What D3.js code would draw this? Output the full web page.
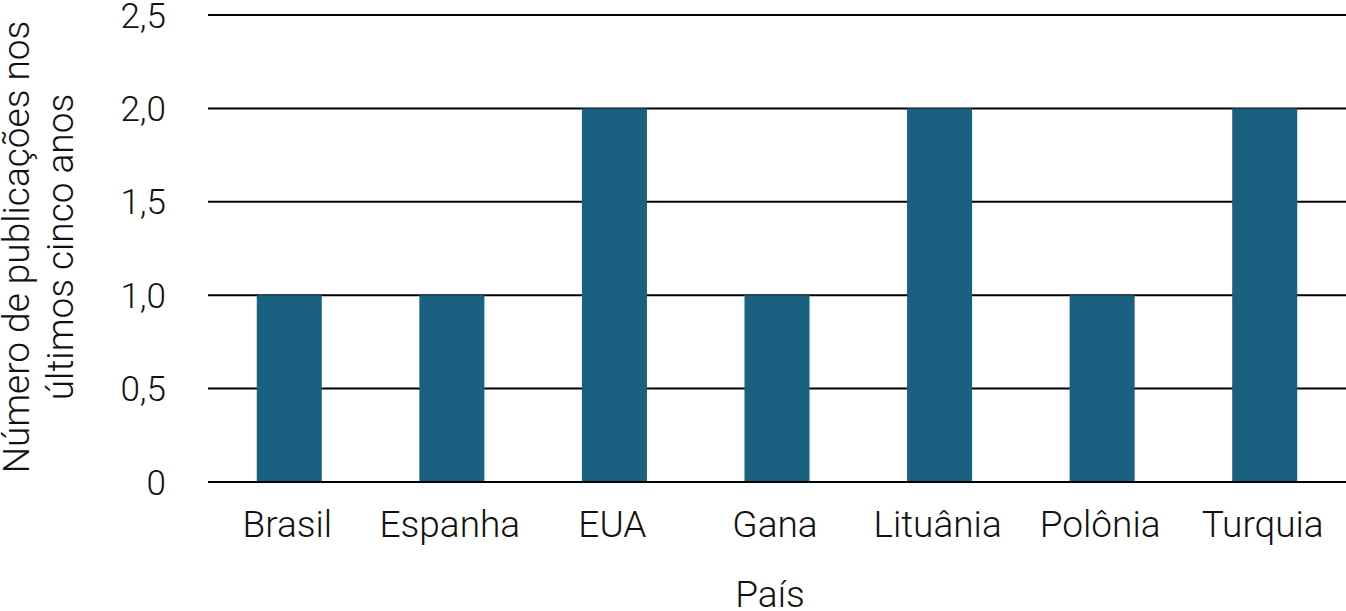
<!DOCTYPE html>
<html><head><meta charset="utf-8">
<script src="https://cdn.jsdelivr.net/npm/d3@7"></script>
<style>body{margin:0;background:#fff}svg{display:block}text{font-family:Roboto,sans-serif;font-weight:300;fill:#111}</style>
</head><body><svg id="c" width="1346" height="611"></svg>
<script>
const categories = ["Brasil","Espanha","EUA","Gana","Lituânia","Polônia","Turquia"];
const values = [1,1,2,1,2,1,2];
const yTicks = [0,0.5,1,1.5,2,2.5];
const yTickLabels = ["0","0,5","1,0","1,5","2,0","2,5"];
const yTitle = ["Número de publicações nos","últimos cinco anos"];
const xTitle = "País";

const svg = d3.select("#c");
const m = {l:208, r:1346, t:15, b:482};
const x = d3.scaleBand().domain(categories).range([m.l,m.r]).paddingInner(0.6).paddingOuter(0.3);
const y = d3.scaleLinear().domain([0,2.5]).range([m.b,m.t]);

svg.append("g").selectAll("line").data(yTicks).join("line")
  .attr("x1",m.l).attr("x2",m.r).attr("y1",d=>y(d)).attr("y2",d=>y(d))
  .attr("stroke","#000").attr("stroke-width",2);

svg.append("g").selectAll("rect").data(values).join("rect")
  .attr("x",(d,i)=>x(categories[i])).attr("width",x.bandwidth())
  .attr("y",d=>y(d)).attr("height",d=>y(0)-y(d)).attr("fill","#1a6080");

svg.append("line").attr("x1",m.l).attr("x2",m.r).attr("y1",y(0)).attr("y2",y(0)).attr("stroke","#000").attr("stroke-width",2);

svg.append("g").selectAll("text").data(yTicks).join("text")
  .attr("x",166).attr("y",d=>y(d)).attr("dy","0.36em").attr("text-anchor","end")
  .style("font-size","35px").text((d,i)=>yTickLabels[i]);

svg.append("g").selectAll("text").data(categories).join("text")
  .attr("x",d=>x(d)+x.bandwidth()/2-2).attr("y",537).attr("text-anchor","middle")
  .style("font-size","37px").text(d=>d);

svg.append("text").attr("x",(m.l+m.r)/2-7).attr("y",607).attr("text-anchor","middle")
  .style("font-size","37px").text(xTitle);

const yt = svg.append("text").attr("transform","translate(0,247) rotate(-90)").attr("text-anchor","middle").style("font-size","37px");
yt.selectAll("tspan").data(yTitle).join("tspan").attr("x",0).attr("y",(d,i)=>29+i*44).text(d=>d);
</script></body></html>
